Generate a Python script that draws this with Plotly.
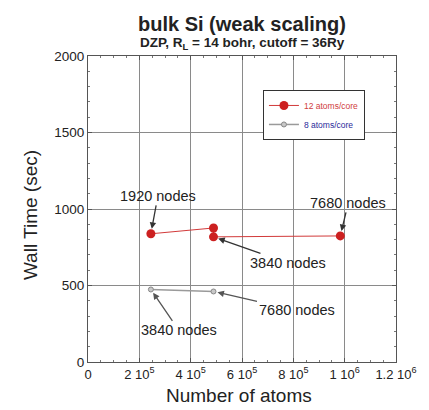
import plotly.graph_objects as go

# Weak-scaling timings for bulk Si
atoms_12 = [245000, 489000, 489000, 983000]
time_12 = [838, 876, 818, 824]
atoms_8 = [245000, 489000]
time_8 = [474, 461]

x_ticks = [0, 2e5, 4e5, 6e5, 8e5, 1e6, 1.2e6]
x_tick_text = ["0", "2 10<sup>5</sup>", "4 10<sup>5</sup>", "6 10<sup>5</sup>",
               "8 10<sup>5</sup>", "1 10<sup>6</sup>", "1.2 10<sup>6</sup>"]
y_ticks = [0, 500, 1000, 1500, 2000]

# node-count labels: (series index, text, dx, dy)
labels_12 = [(0, "1920 nodes", 7, -38), (3, "7680 nodes", 8, -33), (2, "3840 nodes", 74, 26)]
labels_8 = [(1, "7680 nodes", 83, 19), (0, "3840 nodes", 28, 41)]

font = "Liberation Sans, Arial, sans-serif"

fig = go.Figure()
fig.add_trace(go.Scatter(
    x=atoms_12, y=time_12, mode="lines+markers",
    name="<span style='color:#d04040'>12 atoms/core</span>",
    line=dict(color="#d23a3a", width=1),
    marker=dict(color="#cc2020", size=9),
))
fig.add_trace(go.Scatter(
    x=atoms_8, y=time_8, mode="lines+markers",
    name="<span style='color:#2a2a9a'>8 atoms/core</span>",
    line=dict(color="#9a9a9a", width=1.5),
    marker=dict(color="#c8c8c8", size=5, line=dict(color="#888", width=1)),
))

annotations = []
for i, txt, dx, dy in labels_12:
    annotations.append(dict(x=atoms_12[i], y=time_12[i], text=txt, ax=dx, ay=dy,
                            showarrow=True, arrowhead=2, arrowsize=1, arrowwidth=1.3,
                            arrowcolor="#333", standoff=5,
                            font=dict(size=14.5, color="#222", family=font)))
for i, txt, dx, dy in labels_8:
    annotations.append(dict(x=atoms_8[i], y=time_8[i], text=txt, ax=dx, ay=dy,
                            showarrow=True, arrowhead=2, arrowsize=1, arrowwidth=1.3,
                            arrowcolor="#555", standoff=4,
                            font=dict(size=14.5, color="#222", family=font)))

# titles
annotations.append(dict(xref="paper", yref="paper", x=0.5, y=1, yshift=45, showarrow=False,
                        text="<b>bulk Si (weak scaling)</b>",
                        font=dict(size=20, color="#222", family=font)))
annotations.append(dict(xref="paper", yref="paper", x=0.5, y=1, yshift=23, showarrow=False,
                        text="<b>DZP, R<sub>L</sub> = 14 bohr, cutoff = 36Ry</b>",
                        font=dict(size=13.5, color="#222", family=font)))
annotations.append(dict(xref="paper", yref="paper", x=0.49, y=0, yshift=-33, showarrow=False,
                        text="Number of atoms", yanchor="middle",
                        font=dict(size=19, color="#222", family=font)))
annotations.append(dict(xref="paper", yref="paper", x=0, xshift=-58, y=0.48, showarrow=False,
                        text="Wall Time (sec)", textangle=-90, xanchor="center",
                        font=dict(size=19, color="#222", family=font)))

fig.update_layout(
    width=429, height=410,
    margin=dict(l=88, r=33, t=56, b=48, autoexpand=False),
    paper_bgcolor="white", plot_bgcolor="white",
    font=dict(family=font, color="#222"),
    showlegend=True,
    legend=dict(x=0.568, y=0.889, xanchor="left", yanchor="top",
                bordercolor="#333", borderwidth=1, bgcolor="white",
                font=dict(size=8.5, color="#2a2a9a"), tracegroupgap=0,
                itemwidth=30),
    annotations=annotations,
)
fig.update_xaxes(
    range=[0, 1.2e6], tickvals=x_ticks, ticktext=x_tick_text,
    showgrid=True, gridcolor="#8a8a8a", gridwidth=1,
    showline=True, linecolor="#555", linewidth=1, mirror="allticks",
    ticks="inside", ticklen=4, tickcolor="#555",
    minor=dict(dtick=5e4, ticks="inside", ticklen=2, tickcolor="#777", showgrid=False),
    tickfont=dict(size=13, color="#222"), zeroline=False, automargin=False,
)
fig.update_yaxes(
    range=[0, 2000], tickvals=y_ticks,
    showgrid=True, gridcolor="#8a8a8a", gridwidth=1,
    showline=True, linecolor="#555", linewidth=1, mirror="allticks",
    ticks="inside", ticklen=4, tickcolor="#555",
    minor=dict(dtick=100, ticks="inside", ticklen=2, tickcolor="#777", showgrid=False),
    tickfont=dict(size=13.5, color="#222"), zeroline=False, automargin=False,
)

fig.write_html("out.html")
